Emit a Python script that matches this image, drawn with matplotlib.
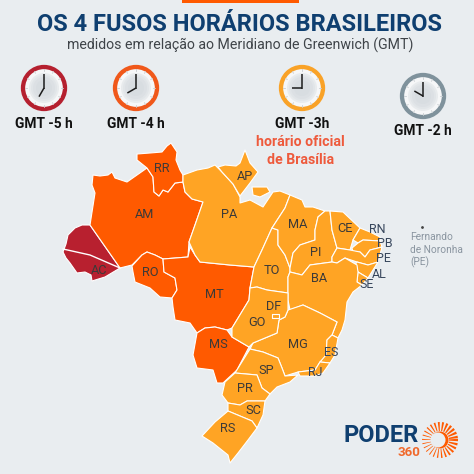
import matplotlib
matplotlib.use('Agg')
from matplotlib import pyplot as plt
from matplotlib.patches import Circle, Polygon, Rectangle, Wedge
import numpy as np

plt.rcParams['font.family'] = ['Roboto', 'DejaVu Sans']

# State outlines (image pixels)
AC = [(90, 225), (82, 225), (75, 228), (68, 235), (66, 244), (63, 252), (66, 258), (70, 263), (77, 273), (85, 272), (91, 275), (92, 281), (105, 277), (120, 268)]
AM = [(93, 175), (100, 176), (108, 175), (112, 172), (115, 178), (127, 182), (137, 175), (147, 168), (153, 177), (154, 192), (159, 196), (163, 190), (168, 192), (175, 183), (183, 182), (185, 192), (192, 199), (203, 202), (195, 225), (189, 242), (188, 257), (163, 259), (155, 255), (147, 252), (142, 255), (132, 265), (120, 268), (90, 225), (95, 193), (92, 185)]
RR = [(137, 154), (150, 153), (162, 152), (167, 146), (171, 143), (177, 152), (176, 160), (180, 170), (183, 175), (183, 182), (175, 183), (168, 192), (163, 190), (159, 196), (154, 192), (153, 177), (147, 168), (137, 160)]
RO = [(132, 266), (142, 255), (147, 252), (155, 255), (163, 259), (164, 272), (175, 278), (177, 290), (172, 298), (160, 297), (150, 288), (135, 282), (133, 272)]
MT = [(163, 259), (188, 257), (190, 247), (195, 255), (200, 262), (230, 265), (254, 267), (250, 288), (249, 300), (232, 328), (227, 330), (215, 327), (205, 328), (197, 333), (190, 323), (175, 320), (173, 307), (172, 298), (177, 290), (175, 278), (164, 272)]
MS = [(197, 333), (205, 328), (215, 327), (227, 330), (232, 337), (249, 347), (237, 370), (223, 383), (217, 383), (213, 370), (197, 368), (193, 355)]
PA = [(183, 175), (197, 170), (208, 168), (215, 165), (222, 172), (233, 184), (240, 197), (240, 203), (250, 200), (263, 207), (273, 192), (280, 191), (290, 195), (285, 208), (272, 228), (262, 250), (254, 267), (230, 265), (200, 262), (195, 255), (189, 242), (195, 225), (203, 202), (192, 199), (185, 192), (183, 182)]
MARAJO = [(252, 187), (267, 187), (270, 192), (260, 197), (253, 195)]
AP = [(218, 167), (225, 165), (236, 166), (240, 163), (245, 150), (250, 163), (258, 172), (250, 183), (240, 196), (233, 184), (222, 172)]
TO = [(272, 228), (278, 230), (278, 245), (285, 255), (290, 268), (290, 272), (288, 277), (288, 293), (267, 290), (257, 287), (250, 288), (254, 267), (262, 250)]
MA = [(290, 195), (302, 200), (305, 207), (313, 207), (325, 211), (318, 217), (315, 230), (315, 240), (300, 245), (293, 253), (290, 268), (285, 255), (278, 245), (278, 230), (272, 228), (285, 208)]
PI = [(325, 211), (330, 211), (332, 230), (337, 248), (332, 257), (332, 262), (310, 265), (302, 275), (290, 272), (290, 268), (293, 253), (300, 245), (315, 240), (315, 230), (318, 217)]
CE = [(330, 211), (343, 212), (360, 228), (353, 240), (350, 250), (337, 248), (332, 230)]
RN = [(360, 228), (370, 232), (380, 237), (380, 241), (363, 240), (358, 243), (353, 240)]
PB = [(352, 248), (358, 243), (363, 240), (380, 241), (382, 247), (370, 250), (365, 257), (360, 252), (353, 252)]
PE = [(332, 257), (337, 248), (350, 250), (360, 252), (365, 257), (370, 250), (382, 247), (378, 262), (368, 265), (357, 262), (345, 258), (337, 263), (332, 262)]
AL = [(357, 262), (368, 265), (378, 262), (368, 278), (358, 272), (355, 265)]
SE = [(358, 272), (368, 278), (362, 285), (357, 282)]
BA = [(288, 277), (290, 272), (302, 275), (310, 265), (332, 262), (337, 263), (345, 258), (357, 265), (358, 272), (357, 282), (362, 285), (353, 292), (347, 302), (345, 320), (342, 330), (338, 338), (332, 335), (337, 322), (320, 313), (303, 305), (290, 310), (288, 300), (288, 293)]
MG = [(288, 310), (303, 305), (320, 313), (337, 322), (332, 335), (327, 340), (326, 357), (320, 362), (315, 370), (298, 372), (285, 376), (282, 368), (278, 358), (263, 352), (250, 349), (253, 343), (277, 333), (279, 320), (285, 317)]
GO = [(250, 288), (257, 287), (267, 290), (288, 293), (288, 310), (285, 317), (279, 320), (277, 333), (253, 343), (249, 347), (232, 337), (232, 328), (249, 300)]
ES = [(332, 335), (338, 338), (335, 355), (330, 363), (320, 362), (326, 355), (327, 340)]
RJ = [(320, 362), (330, 363), (323, 373), (315, 376), (300, 376), (298, 372), (315, 370)]
SP = [(250, 349), (263, 352), (278, 358), (282, 368), (285, 376), (298, 375), (290, 382), (277, 387), (270, 394), (262, 388), (257, 375), (235, 373)]
PR = [(235, 373), (257, 375), (262, 388), (270, 394), (265, 401), (247, 401), (240, 405), (228, 403), (222, 395), (225, 382)]
SC = [(228, 403), (240, 405), (247, 401), (265, 401), (263, 415), (257, 428), (252, 421), (228, 411)]
RS = [(228, 411), (252, 421), (257, 428), (248, 440), (238, 453), (230, 463), (228, 455), (213, 443), (202, 436), (215, 422)]
DF = [(272, 314), (279, 314), (279, 318), (272, 318)]
ACRE_LINE = [(63, 249), (90, 255), (120, 268)]

# Time zone of each outline
zone_5 = [AC]
zone_4 = [AM, RR, RO, MT, MS]
zone_3 = [PA, MARAJO, AP, TO, MA, PI, CE, RN, PB, PE, AL, SE, BA, MG, GO, ES, RJ, SP, PR, SC, RS, DF]

# State labels
label_names = ['RR', 'AM', 'AC', 'RO', 'MT', 'MS', 'AP', 'PA', 'MA', 'TO', 'PI', 'CE', 'BA', 'GO', 'DF', 'MG', 'SP', 'PR', 'SC', 'RS']
label_x = [162, 145, 99, 150, 214, 218, 245, 229, 298, 272, 316, 345, 319, 257, 274, 298, 266, 245, 253, 228]
label_y = [168, 214, 270, 272, 295, 345, 176, 214, 224, 270, 252, 228, 278, 323, 307, 345, 371, 388, 410, 428]
coast_names = ['RN', 'PB', 'PE', 'AL', 'SE', 'ES', 'RJ']
coast_x = [377, 385, 383, 379, 367, 331, 315]
coast_y = [229, 243, 258, 274, 284, 352, 372]

# Clocks
clock_x = [44, 136, 302, 423]
clock_y = [88, 88, 88, 96]
clock_hours = [7, 8, 9, 10]
clock_colors = ['#b5202f', '#f0581a', '#f9a227', '#7f929c']
clock_labels = ['GMT -5 h', 'GMT -4 h', 'GMT -3h', 'GMT -2 h']
clock_label_y = [124, 124, 124, 131]

BG = '#e9edf0'
STATE_TEXT = '#3c3a38'
NAVY = '#0f3f70'
ORANGE = '#ff5a00'

fig = plt.figure(figsize=(4.74, 4.74), dpi=100, facecolor=BG)
ax = fig.add_axes([0, 0, 1, 1])
ax.set_xlim(0, 474)
ax.set_ylim(474, 0)
ax.axis('off')

ax.add_patch(Rectangle((182, 0), 117, 3, color=ORANGE, lw=0))

ax.text(240, 24, 'OS 4 FUSOS HORÁRIOS BRASILEIROS', ha='center', va='center',
        fontsize=17, fontweight='bold', color=NAVY)
ax.text(240, 45.5, 'medidos em relação ao Meridiano de Greenwich (GMT)', ha='center', va='center',
        fontsize=10.2, color='#3f4449')

# Map
for shapes, color in [(zone_5, '#b8202f'), (zone_4, ORANGE), (zone_3, '#ffa424')]:
    for shape in shapes:
        ax.add_patch(Polygon(shape, closed=True, facecolor=color, edgecolor='white', lw=0.8, joinstyle='round'))
ax.plot(*zip(*ACRE_LINE), color='white', lw=1.0)
for name, x, y in zip(label_names, label_x, label_y):
    ax.text(x, y, name, ha='center', va='center', fontsize=9.2, color=STATE_TEXT)
for name, x, y in zip(coast_names, coast_x, coast_y):
    ax.text(x, y, name, ha='center', va='center', fontsize=9, color='#37465c')

# Clocks
for x, y, hour, color, label, label_y_pos in zip(clock_x, clock_y, clock_hours, clock_colors, clock_labels, clock_label_y):
    ax.add_patch(Circle((x, y), 21, facecolor='#f6f7f8', edgecolor=color, lw=3.1))
    for r, shade in zip([15, 13, 11, 8], ['#e8ebed', '#e1e5e8', '#dce0e4', '#d8dde1']):
        ax.add_patch(Circle((x, y), r, facecolor=shade, lw=0))
    for a in np.radians(np.arange(0, 360, 30)):
        ax.plot([x + 17 * np.sin(a), x + 19 * np.sin(a)], [y - 17 * np.cos(a), y - 19 * np.cos(a)],
                color='#c9ced2', lw=0.6)
    a = np.radians(hour * 30)
    ax.plot([x, x + 10 * np.sin(a)], [y, y - 10 * np.cos(a)], color='#1c1c1c', lw=1.1, solid_capstyle='butt')
    ax.plot([x, x], [y + 1, y - 14], color='#1c1c1c', lw=1.1, solid_capstyle='butt')
    ax.text(x, label_y_pos, label, ha='center', va='center', fontsize=9.9, fontweight='bold', color='#111111')

ax.text(300, 142, 'horário oficial', ha='center', va='center', fontsize=10.2, fontweight='bold', color='#ee5a3c')
ax.text(301, 160, 'de Brasília', ha='center', va='center', fontsize=10.2, fontweight='bold', color='#ee5a3c')

# Fernando de Noronha
ax.plot([422], [227], marker='o', ms=1, color='#444444')
ax.text(410, 236.5, 'Fernando', va='center', fontsize=7.3, color='#8a95a0')
ax.text(410, 249.5, 'de Noronha', va='center', fontsize=7.3, color='#8a95a0')
ax.text(410, 262.5, '(PE)', va='center', fontsize=7.3, color='#8a95a0')

# Logo
ax.text(344, 435, 'PODER', va='center', fontsize=17, fontweight='bold', color=NAVY)
ax.text(409, 453, '360', ha='center', va='center', fontsize=9.6, fontweight='bold', color='#f0692c')
for deg in range(0, 360, 14):
    width = 3 + 5 * (0.5 + 0.5 * np.cos(np.radians(deg + 20)))
    # y axis is flipped, so the wedge angles run clockwise on screen
    ax.add_patch(Wedge((440, 440), 18, deg - width / 2, deg + width / 2, width=9, color=ORANGE, lw=0))
ax.add_patch(Circle((440, 440), 8.5, color=ORANGE, lw=0))
ax.add_patch(Circle((438, 440), 7.5, color=BG, lw=0))

fig.savefig('out.png', dpi=100, facecolor=BG)
